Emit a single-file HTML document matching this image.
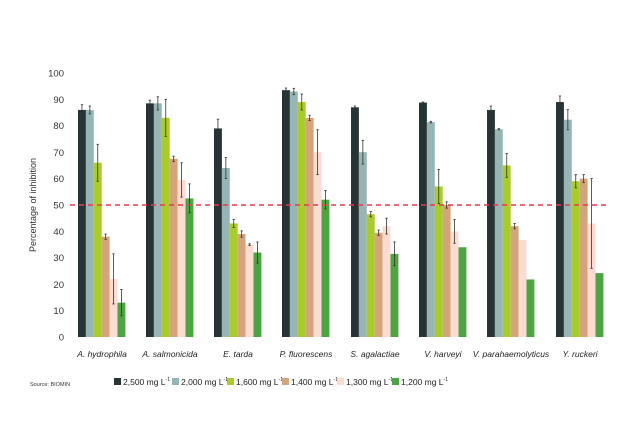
<!DOCTYPE html>
<html><head><meta charset="utf-8"><style>
html,body{margin:0;padding:0;background:#fff;}
svg{display:block;font-family:"Liberation Sans",sans-serif;}
</style></head><body>
<svg id="c" width="640" height="430" viewBox="0 0 640 430" xmlns="http://www.w3.org/2000/svg">
<g font-size="9.5" fill="#333" text-anchor="end">
<text x="64" y="340.5">0</text><text x="64" y="314">10</text><text x="64" y="288">20</text><text x="64" y="261">30</text><text x="64" y="235">40</text><text x="64" y="208.5">50</text><text x="64" y="182">60</text><text x="64" y="156">70</text><text x="64" y="129">80</text><text x="64" y="103">90</text><text x="64" y="76.5">100</text>
</g>
<text transform="translate(36,205) rotate(-90)" font-size="9" fill="#333" text-anchor="middle">Percentage of inhibition</text>
<g id="bars"></g>
<line x1="70" y1="205" x2="610" y2="205" stroke="#e8384f" stroke-width="1.6" stroke-dasharray="5,4"/>
<g font-size="8.5" font-style="italic" fill="#222" text-anchor="middle">
<text x="102" y="357">A. hydrophila</text><text x="170" y="357">A. salmonicida</text><text x="238" y="357">E. tarda</text><text x="306" y="357">P. fluorescens</text><text x="375" y="357">S. agalactiae</text><text x="443" y="357">V. harveyi</text><text x="511" y="357">V. parahaemolyticus</text><text x="580" y="357">Y. ruckeri</text>
</g>
<text x="30" y="386" font-size="5.5" fill="#333">Source: BIOMIN</text>
<g font-size="8.5" fill="#222">
<rect x="114" y="378" width="7" height="7" fill="#263436"/><text x="123" y="385">2,500 mg L<tspan font-size="5" dy="-4">-1</tspan></text>
<rect x="172" y="378" width="7" height="7" fill="#97b5b5"/><text x="181" y="385">2,000 mg L<tspan font-size="5" dy="-4">-1</tspan></text>
<rect x="227" y="378" width="7" height="7" fill="#a9cc2c"/><text x="236" y="385">1,600 mg L<tspan font-size="5" dy="-4">-1</tspan></text>
<rect x="282" y="378" width="7" height="7" fill="#d4a47c"/><text x="291" y="385">1,400 mg L<tspan font-size="5" dy="-4">-1</tspan></text>
<rect x="337" y="378" width="7" height="7" fill="#fadcd3"/><text x="346" y="385">1,300 mg L<tspan font-size="5" dy="-4">-1</tspan></text>
<rect x="392" y="378" width="7" height="7" fill="#4ea442"/><text x="401" y="385">1,200 mg L<tspan font-size="5" dy="-4">-1</tspan></text>
</g>
</svg>
<script>
var cols=["#263436","#97b5b5","#a9cc2c","#d4a47c","#fadcd3","#4ea442"];
var starts=[78,146,214,282,351,419,487,556];
var d=[[86,86,66,38,22,13],[88.5,88.5,83,67.5,59.5,52.5],[79,64,43,39,35,32],[93.5,93,89,83,70,52],[87,70,46.5,39.5,42,31.5],[88.8,81.4,57,50,40,34],[86,78.7,65,42,36.8,21.8],[89,82.3,59,60,43,24.2]];
var e=[[2,1.5,7,1,9.5,5],[1.2,2.5,7,1,6.5,5.5],[3.5,4,1.5,1.2,0.3,4],[0.8,1.2,3,1,8.5,3.5],[0.5,4.5,1,1,3,4.5],[0.2,0.3,6.5,1.2,4.5,0],[1.5,0.2,4.5,1,0,0],[2.3,3.8,2.5,1.5,17,0]];
var g=document.getElementById("bars"),s="";
function Y(v){return 337-v*2.64;}
for(var i=0;i<8;i++)for(var j=0;j<6;j++){var x=starts[i]+j*7.9,v=d[i][j];
s+='<rect x="'+x+'" y="'+Y(v)+'" width="7.9" height="'+(v*2.64)+'" fill="'+cols[j]+'"/>';
var er=e[i][j];if(er>0.1){var cx=x+3.95;s+='<line x1="'+cx+'" x2="'+cx+'" y1="'+Y(v+er)+'" y2="'+Y(v-er)+'" stroke="#333" stroke-width="0.8"/><line x1="'+(cx-1.2)+'" x2="'+(cx+1.2)+'" y1="'+Y(v+er)+'" y2="'+Y(v+er)+'" stroke="#333" stroke-width="0.8"/><line x1="'+(cx-1.2)+'" x2="'+(cx+1.2)+'" y1="'+Y(v-er)+'" y2="'+Y(v-er)+'" stroke="#333" stroke-width="0.8"/>';}}
g.innerHTML=s;
</script>
</body></html>
